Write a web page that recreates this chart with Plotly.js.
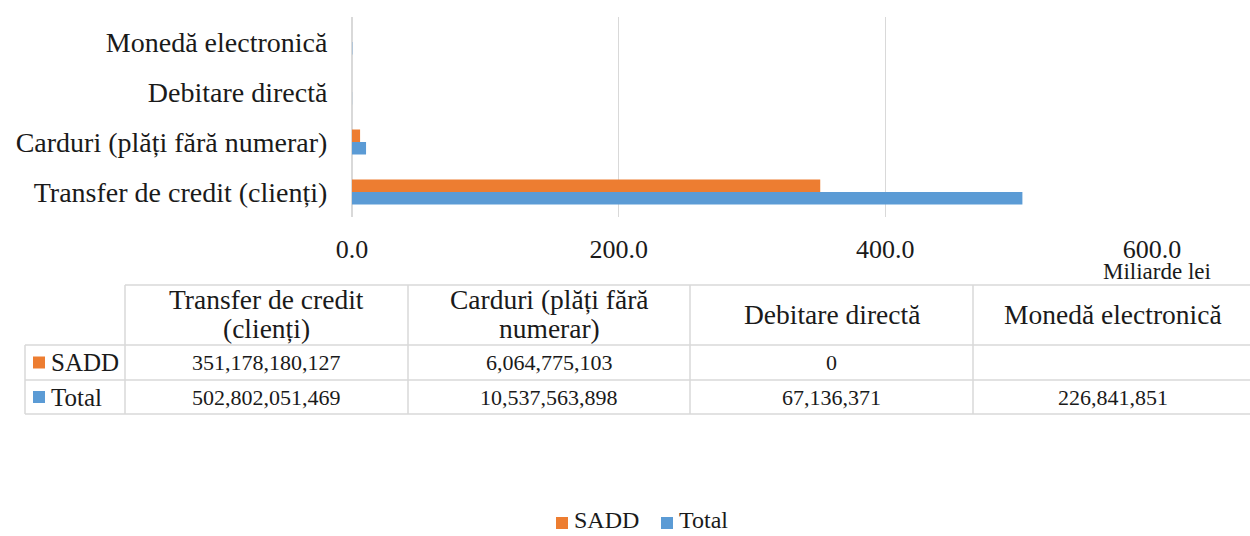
<!DOCTYPE html>
<html><head><meta charset="utf-8">
<script src="https://cdn.plot.ly/plotly-3.0.1.min.js"></script>
<style>html,body{margin:0;padding:0;background:#fff;}#chart{width:1250px;height:536px;}</style>
</head><body><div id="chart"></div>
<script>
const categories = ["Transfer de credit (clienți)", "Carduri (plăți fără numerar)", "Debitare directă", "Monedă electronică"];
const headerLabels = [["Transfer de credit", "(clienți)"], ["Carduri (plăți fără", "numerar)"], ["Debitare directă"], ["Monedă electronică"]];
const seriesNames = ["SADD", "Total"];
const sadd = [351178180127, 6064775103, 0, null];
const total = [502802051469, 10537563898, 67136371, 226841851];
const colors = {SADD: "#ED7D31", Total: "#5B9BD5"};
const tickVals = [0, 200, 400, 600];
const tickText = ["0.0", "200.0", "400.0", "600.0"];
const unitLabel = "Miliarde lei";

const FONT = "Liberation Serif";
const W = 1250, H = 536;
const L = 352, R = 1152, T = 17, B = 217;
const px = x => (x - L) / (R - L);
const py = y => (B - y) / (B - T);

const toB = v => v === null ? null : v / 1e9;
const fmt = v => v === null ? "" : v.toLocaleString("en-US");

const traces = [
  {type: "bar", orientation: "h", name: "Total", y: categories, x: total.map(toB),
   marker: {color: colors.Total}, showlegend: false, hoverinfo: "none"},
  {type: "bar", orientation: "h", name: "SADD", y: categories, x: sadd.map(toB),
   marker: {color: colors.SADD}, showlegend: false, hoverinfo: "none"}
];

const shapes = [];
const annotations = [];
const line = (x0, y0, x1, y1) => shapes.push({type: "line", xref: "paper", yref: "paper",
  x0: px(x0), y0: py(y0), x1: px(x1), y1: py(y1), line: {color: "#d9d9d9", width: 1.5}});
const square = (x, y, c) => shapes.push({type: "rect", xref: "paper", yref: "paper",
  x0: px(x), x1: px(x + 12), y0: py(y - 6), y1: py(y + 6), fillcolor: c, line: {width: 0}});

// table grid
const colX = [125, 408, 690, 973, 1252];
const rowY = [285, 345, 380, 414];
line(125, rowY[0], 1252, rowY[0]);
for (let i = 1; i < rowY.length; i++) line(25, rowY[i], 1252, rowY[i]);
line(25, rowY[1], 25, rowY[3]);
colX.forEach(x => line(x, rowY[0], x, rowY[3]));

const txt = (x, y, s, size, anchor) => annotations.push({xref: "paper", yref: "paper",
  x: px(x), y: py(y), text: s, showarrow: false, xanchor: anchor || "center", yanchor: "middle",
  borderpad: 0, font: {family: FONT, size: size, color: "#1a1a1a"}});

// header
headerLabels.forEach((lines, i) => {
  const cx = (colX[i] + colX[i + 1]) / 2;
  if (lines.length === 2) { txt(cx, 299, lines[0], 27.5); txt(cx, 328, lines[1], 27.5); }
  else txt(cx, 314, lines[0], 27.5);
});
// rows
const rows = [sadd, total];
rows.forEach((vals, r) => {
  const cy = (rowY[r + 1] + rowY[r + 2]) / 2;
  const name = seriesNames[r];
  square(33, cy, colors[name]);
  txt(50, cy, name, 25, "left");
  vals.forEach((v, i) => txt((colX[i] + colX[i + 1]) / 2, cy, fmt(v), 22));
});
// unit label
txt(1157, 271, unitLabel, 23);

// bottom legend
const legendItems = [{name: seriesNames[0], x: 556}, {name: seriesNames[1], x: 661}];
legendItems.forEach(it => { square(it.x, 523, colors[it.name]); txt(it.x + 17, 520, it.name, 24, "left"); });

const layout = {
  width: W, height: H,
  margin: {l: L, r: W - R, t: T, b: H - B, pad: 0},
  paper_bgcolor: "#fff", plot_bgcolor: "#fff",
  barmode: "group", bargap: 0.5, bargroupgap: 0,
  font: {family: FONT, color: "#1a1a1a"},
  xaxis: {range: [0, 600], tickvals: tickVals, ticktext: tickText, showgrid: true,
    gridcolor: "#d9d9d9", gridwidth: 1.5, zeroline: true, zerolinecolor: "#d9d9d9", zerolinewidth: 1.5,
    showline: false, ticks: "outside", ticklen: 9, tickcolor: "rgba(0,0,0,0)",
    tickfont: {family: FONT, size: 26, color: "#1a1a1a"}, fixedrange: true},
  yaxis: {type: "category", categoryorder: "array", categoryarray: categories,
    showgrid: false, zeroline: false, showline: false, ticks: "outside", ticklen: 18,
    tickcolor: "rgba(0,0,0,0)", tickfont: {family: FONT, size: 28, color: "#1a1a1a"}, fixedrange: true},
  showlegend: false,
  shapes: shapes, annotations: annotations
};

Plotly.newPlot("chart", traces, layout, {displayModeBar: false, staticPlot: true});
</script></body></html>
